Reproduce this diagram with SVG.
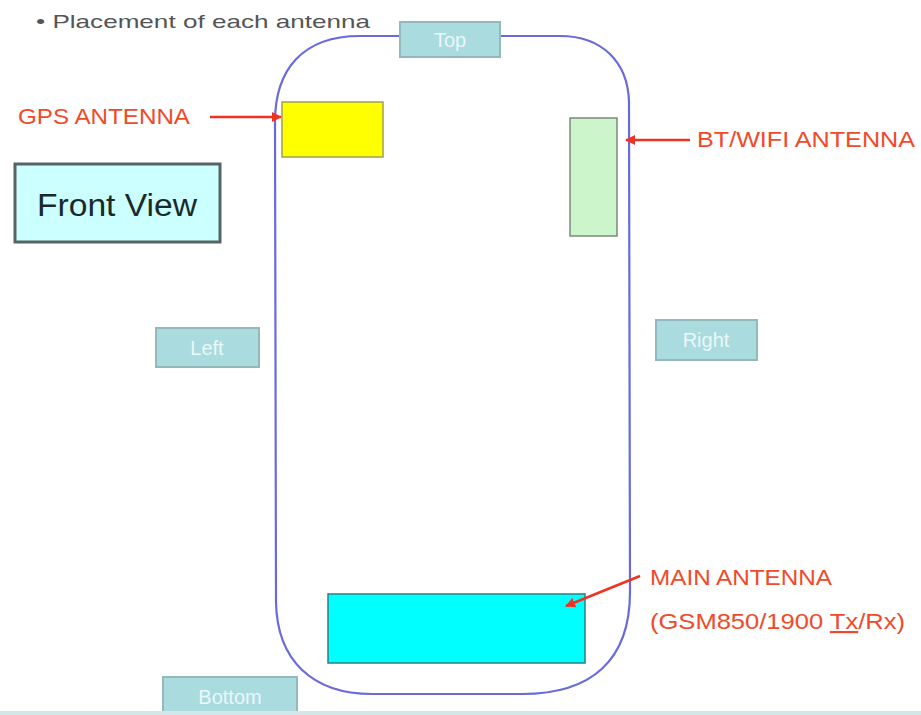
<svg xmlns="http://www.w3.org/2000/svg" width="921" height="715" viewBox="0 0 921 715">
<defs>
<marker id="ah" viewBox="0 0 10 10" refX="9" refY="5" markerWidth="4" markerHeight="4" orient="auto" markerUnits="strokeWidth">
<path d="M0,0 L10,5 L0,10 Z" fill="#ee3322"/>
</marker>
<style>
text{font-family:"Liberation Sans",Arial,sans-serif}
.lbl{fill:#f04a2a;font-size:22px}
.side{fill:#a9dbdf;stroke:#93b9bb;stroke-width:2}
.sidet{fill:#eaf8f8;font-size:20px;text-anchor:middle}
.arr{stroke:#ee3322;stroke-width:2.5;fill:none;marker-end:url(#ah)}
</style>
</defs>
<rect x="0" y="0" width="921" height="715" fill="#ffffff"/>
<text x="36" y="28" font-size="19" fill="#555555" textLength="334" lengthAdjust="spacingAndGlyphs">• Placement of each antenna</text>
<g id="phone">
<path d="M360,36 L560,36 C602,36 628,62 629,102 L630,592 C630,660 592,694 522,694 L372,694 C312,694 277,660 276,602 L275,122 C275,70 302,36 360,36 Z" fill="none" stroke="#6a6adc" stroke-width="2.2"/>
</g>
<g id="top"><rect class="side" x="400" y="22" width="100" height="35"/><text class="sidet" x="450" y="47">Top</text></g>
<g id="left"><rect class="side" x="156" y="328" width="103" height="39"/><text class="sidet" x="207" y="355">Left</text></g>
<g id="right"><rect class="side" x="656" y="320" width="101" height="40"/><text class="sidet" x="706" y="347">Right</text></g>
<g id="bottom"><rect class="side" x="163" y="677" width="134" height="42"/><text class="sidet" x="230" y="704">Bottom</text></g>
<rect x="0" y="711" width="921" height="4" fill="#d3e6e8"/>
<g id="frontview"><rect x="15" y="164" width="205" height="78" fill="#ccffff" stroke="#566464" stroke-width="3"/><text x="117" y="216" font-size="31" fill="#1a2a2a" text-anchor="middle" textLength="160" lengthAdjust="spacingAndGlyphs">Front View</text></g>
<g id="gps"><rect x="282" y="102" width="101" height="55" fill="#ffff00" stroke="#a0a050" stroke-width="1.5"/></g>
<g id="gpslabel"><text class="lbl" x="18" y="124" textLength="172" lengthAdjust="spacingAndGlyphs">GPS ANTENNA</text></g>
<g id="bt"><rect x="570" y="118" width="47" height="118" fill="#ccf5cc" stroke="#7a8a7a" stroke-width="1.5"/></g>
<g id="btlabel"><text class="lbl" x="697" y="147" textLength="218" lengthAdjust="spacingAndGlyphs">BT/WIFI ANTENNA</text></g>
<g id="main"><rect x="328" y="594" width="257" height="69" fill="#00ffff" stroke="#2a8080" stroke-width="1.5"/></g>
<g id="mainlabel">
<text class="lbl" x="650" y="585" textLength="182" lengthAdjust="spacingAndGlyphs">MAIN ANTENNA</text>
<text class="lbl" x="650" y="629" textLength="255" lengthAdjust="spacingAndGlyphs">(GSM850/1900 <tspan text-decoration="underline">Tx</tspan>/Rx)</text>
</g>
<g id="connectors">
<line class="arr" x1="210" y1="117" x2="281" y2="117"/>
<line class="arr" x1="690" y1="140" x2="626" y2="140"/>
<line class="arr" x1="640" y1="576" x2="566" y2="606"/>
</g>
</svg>
